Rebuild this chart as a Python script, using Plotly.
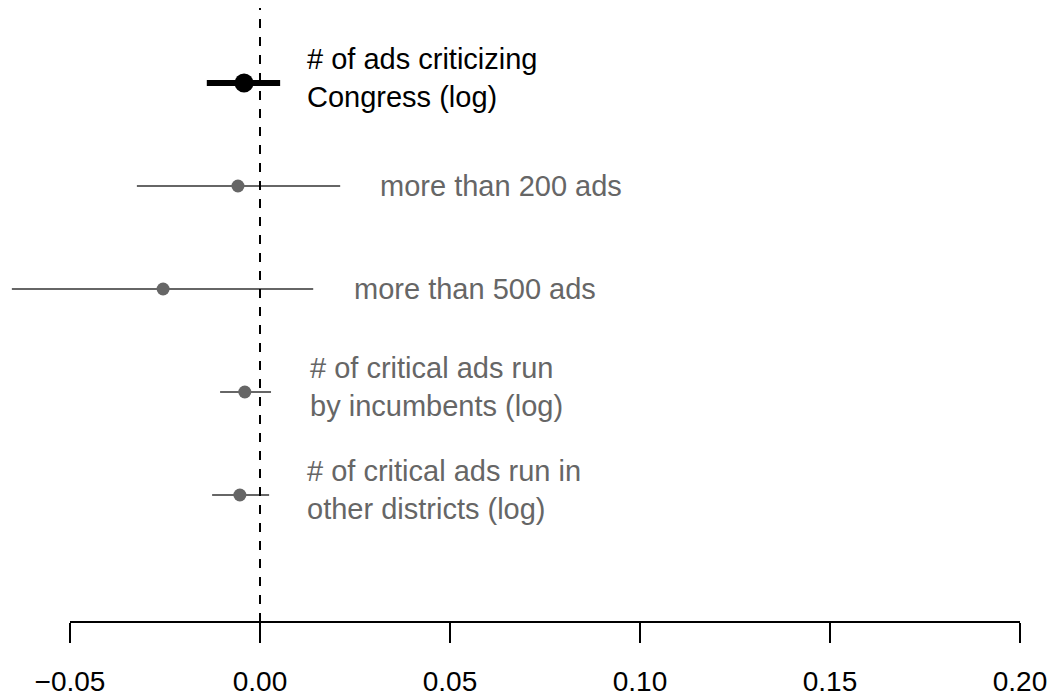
import numpy as np
import plotly.graph_objects as go

# coefficient estimates and 95% intervals, top row first
labels = ["# of ads criticizing<br>Congress (log)",
          "more than 200 ads",
          "more than 500 ads",
          "# of critical ads run<br>by incumbents (log)",
          "# of critical ads run in<br>other districts (log)"]
est = np.array([-0.0042, -0.0058, -0.0255, -0.0040, -0.0053])
lo = np.array([-0.0140, -0.0324, -0.0653, -0.0105, -0.0126])
hi = np.array([0.0053, 0.0211, 0.0140, 0.0029, 0.0024])
ticks = [-0.05, 0.00, 0.05, 0.10, 0.15, 0.20]

ypos = np.arange(len(est), 0, -1)
label_gap = [0.0066, 0.0100, 0.0102, 0.0097, 0.0095]

fig = go.Figure()

# main model - thick black
fig.add_trace(go.Scatter(
    x=est[:1], y=ypos[:1], mode="markers",
    marker=dict(color="black", size=19),
    error_x=dict(type="data", symmetric=False,
                 array=hi[:1] - est[:1], arrayminus=est[:1] - lo[:1],
                 width=0, thickness=6, color="black"),
    showlegend=False))

# robustness checks - thin grey
fig.add_trace(go.Scatter(
    x=est[1:], y=ypos[1:], mode="markers",
    marker=dict(color="#666666", size=13),
    error_x=dict(type="data", symmetric=False,
                 array=hi[1:] - est[1:], arrayminus=est[1:] - lo[1:],
                 width=0, thickness=2, color="#666666"),
    showlegend=False))

for i, lab in enumerate(labels):
    fig.add_annotation(x=hi[i] + label_gap[i], y=ypos[i], text=lab,
                       xanchor="left", yanchor="middle", align="left",
                       showarrow=False, yshift=5 if "<br>" in lab else 0,
                       font=dict(size=29, color="black" if i == 0 else "#666666"))

# zero reference line
fig.add_shape(type="line", x0=0, x1=0, y0=0, y1=1, yref="paper",
              line=dict(color="black", width=2, dash="dash"))
# R-style axis line spanning only the tick range
fig.add_shape(type="line", x0=ticks[0], x1=ticks[-1], y0=0, y1=0, yref="paper",
              line=dict(color="black", width=2))

fig.update_xaxes(range=[-0.05 - 62 / 3800, -0.05 + 995 / 3800],
                 tickvals=ticks, ticktext=["\u22120.05"] + [f"{t:.2f}" for t in ticks[1:]],
                 ticks="outside", ticklen=20, tickwidth=2, tickcolor="black",
                 showgrid=False, zeroline=False, showline=False,
                 ticklabelstandoff=14,
                 tickfont=dict(size=28, color="black"))
fig.update_yaxes(range=[-0.233, 5.728], visible=False, showgrid=False)

fig.update_layout(width=1057, height=698,
                  margin=dict(l=0, r=0, t=0, b=84),
                  plot_bgcolor="white", paper_bgcolor="white",
                  font=dict(family="Liberation Sans, Arial, sans-serif"))

fig.write_html("out.html")
